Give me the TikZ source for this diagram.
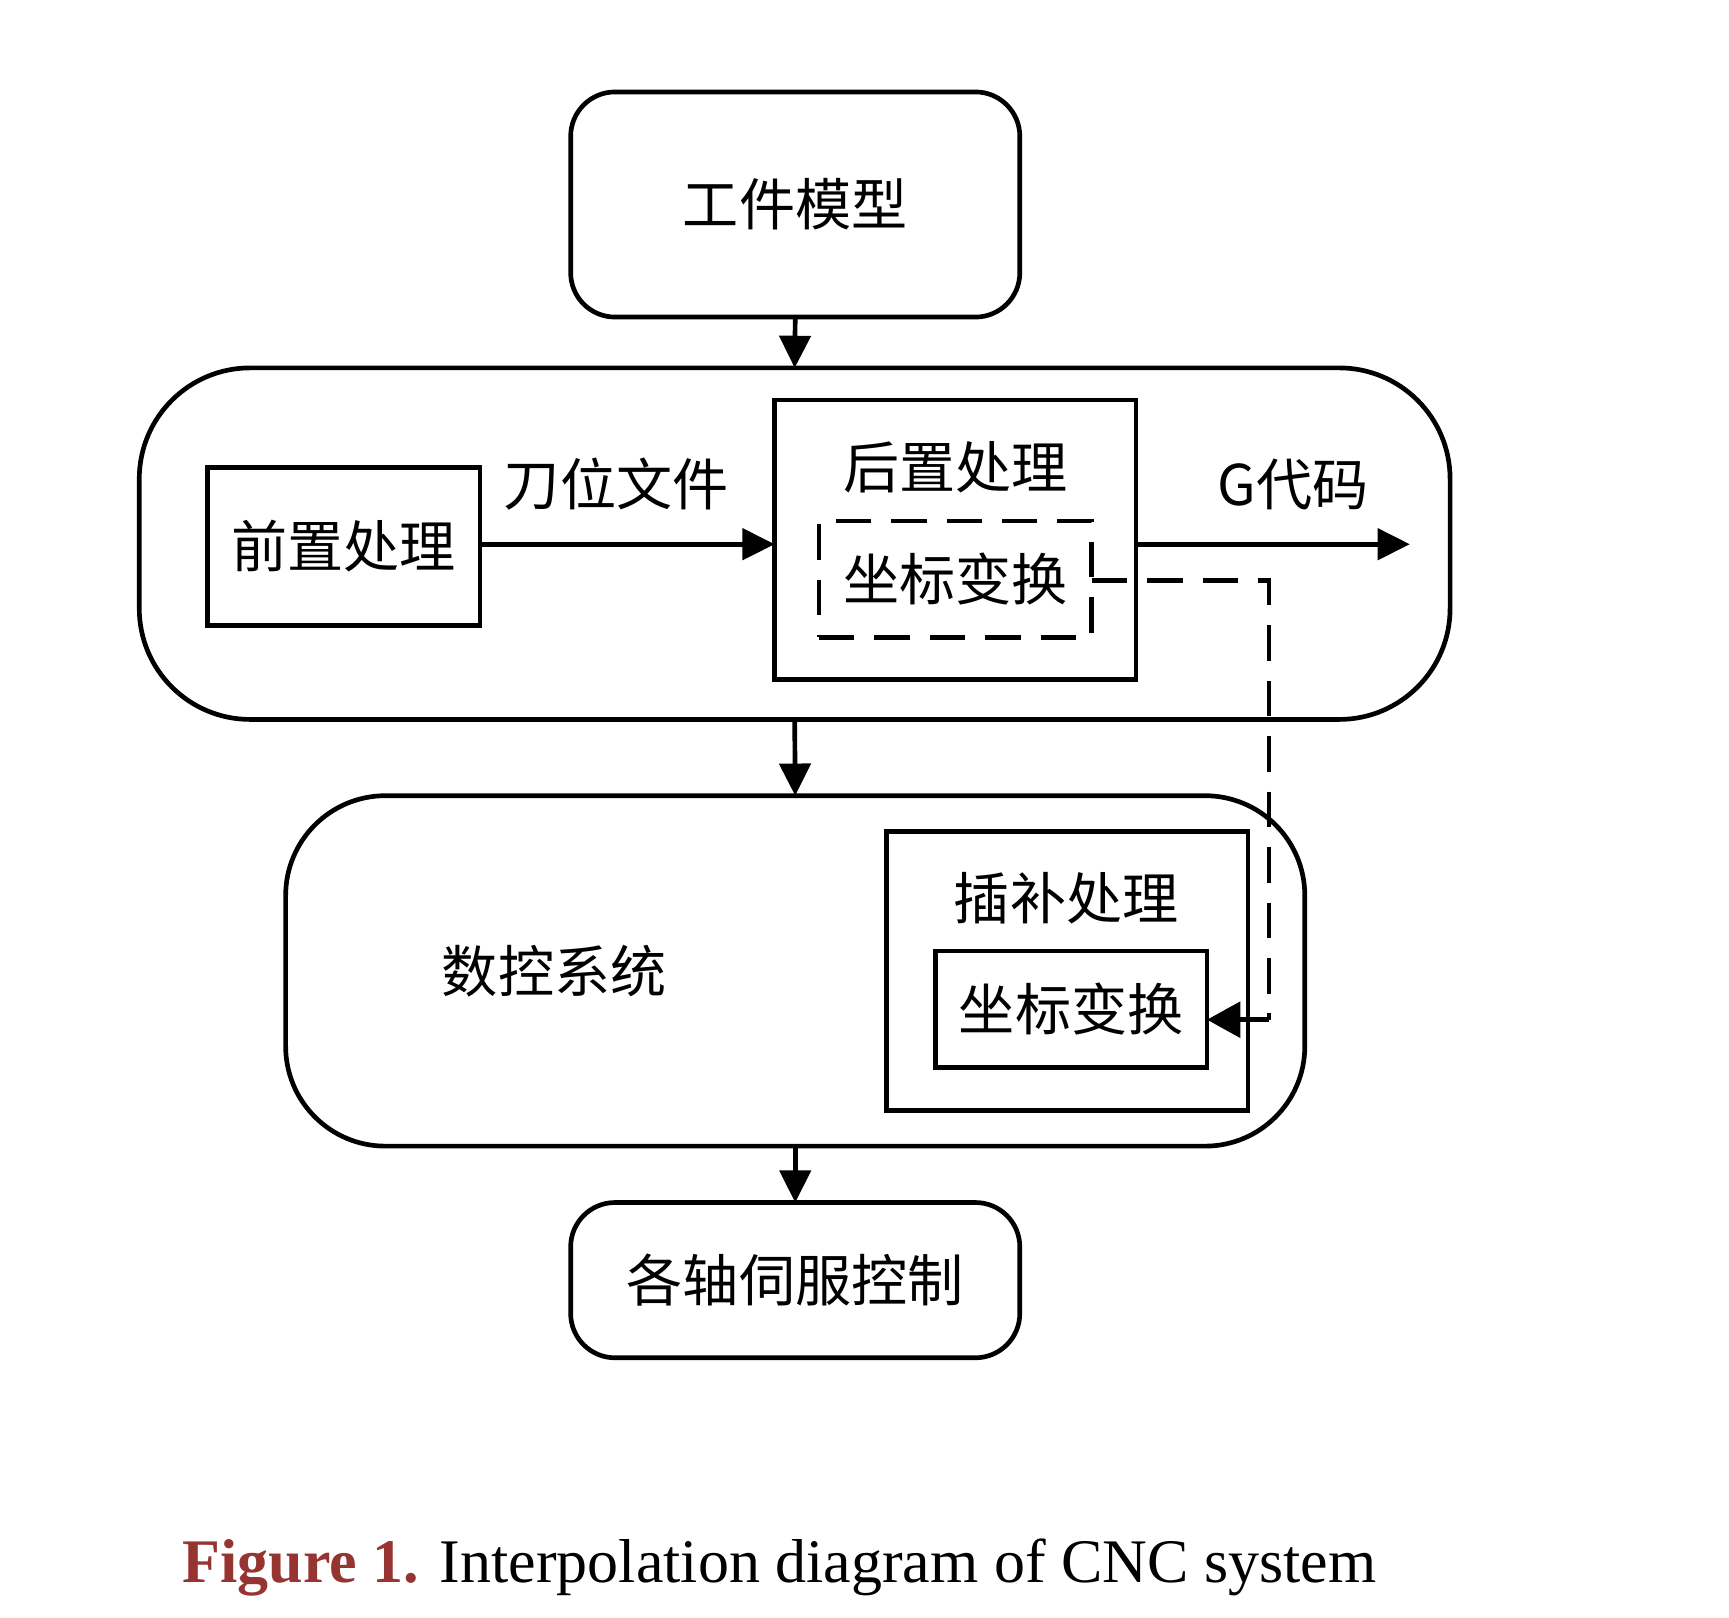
\documentclass[tikz,border=0pt]{standalone}
\usepackage{fontspec}
\setmainfont{Liberation Serif}
\newfontfamily\cjk{Noto Sans CJK SC}
\usetikzlibrary{arrows.meta}
\definecolor{capred}{RGB}{150,52,50}
\begin{document}
\begin{tikzpicture}[x=0.01cm,y=-0.01cm,
  line width=1.2pt,
  every node/.style={inner sep=0pt,outer sep=0pt},
  txt/.style={font=\cjk\fontsize{14.4pt}{17pt}\selectfont},
  rbox/.style={draw,rounded corners=0.4cm},
  bigbox/.style={draw,rounded corners=1cm},
  sqbox/.style={draw},
  dbox/.style={draw,dash pattern=on 0.32cm off 0.18cm},
  arr/.style={-{Triangle[length=0.29cm,width=0.28cm]}},
  dline/.style={dash pattern=on 0.32cm off 0.18cm}]
\useasboundingbox (0,0) rectangle (1560,1459);
% boxes
\node[rbox,minimum width=4.05cm,minimum height=2.03cm,txt] (top) at (717.5,184.5) {工件模型};
\node[bigbox,minimum width=11.82cm,minimum height=3.17cm] (big1) at (717,490.5) {};
\node[sqbox,minimum width=2.46cm,minimum height=1.42cm,txt] (pre) at (310,493) {前置处理};
\node[sqbox,minimum width=3.26cm,minimum height=2.52cm] (post) at (862,487) {};
\node[txt] (postlbl) at (862,422) {后置处理};
\node[dbox,minimum width=2.46cm,minimum height=1.05cm,txt] (dashbox) at (862,522.5) {坐标变换};
\node[txt] (cutter) at (556,437) {刀位文件};
\node[txt] (gcode) at (1167,437) {G代码};
\node[bigbox,rounded corners=0.9cm,minimum width=9.19cm,minimum height=3.16cm] (big2) at (717.5,876) {};
\node[txt] (cnc) at (500,876) {数控系统};
\node[sqbox,minimum width=3.26cm,minimum height=2.52cm] (interp) at (963,876) {};
\node[txt] (interplbl) at (962,810) {插补处理};
\node[sqbox,minimum width=2.45cm,minimum height=1.05cm,txt] (coordbox) at (966.5,910.5) {坐标变换};
\node[rbox,minimum width=4.05cm,minimum height=1.40cm,txt] (bottom) at (717.5,1155) {各轴伺服控制};
% coordinates
\coordinate (gend) at (1272,491);
\coordinate (c1) at (1145,524);
\coordinate (c2) at (1145,920);
% connectors
\draw[arr] (top.south) -- (big1.north);
\draw[arr] (big1.south) -- (big2.north);
\draw[arr] (big2.south) -- (bottom.north);
\draw[arr] (pre.east |- 0,491) -- (post.west |- 0,491);
\draw[arr] (post.east |- gend) -- (gend);
\draw[dline] (dashbox.east |- c1) -- (c1) -- (c2);
\draw[-{Triangle[length=0.3cm,width=0.32cm]}] (c2) -- (c2 -| coordbox.east);
% caption
\node[anchor=base west,font=\fontsize{15.9pt}{19pt}\selectfont] (cap) at (165,1428) {\textcolor{capred}{\textbf{Figure 1.}} Interpolation diagram of CNC system};
\end{tikzpicture}
\end{document}
